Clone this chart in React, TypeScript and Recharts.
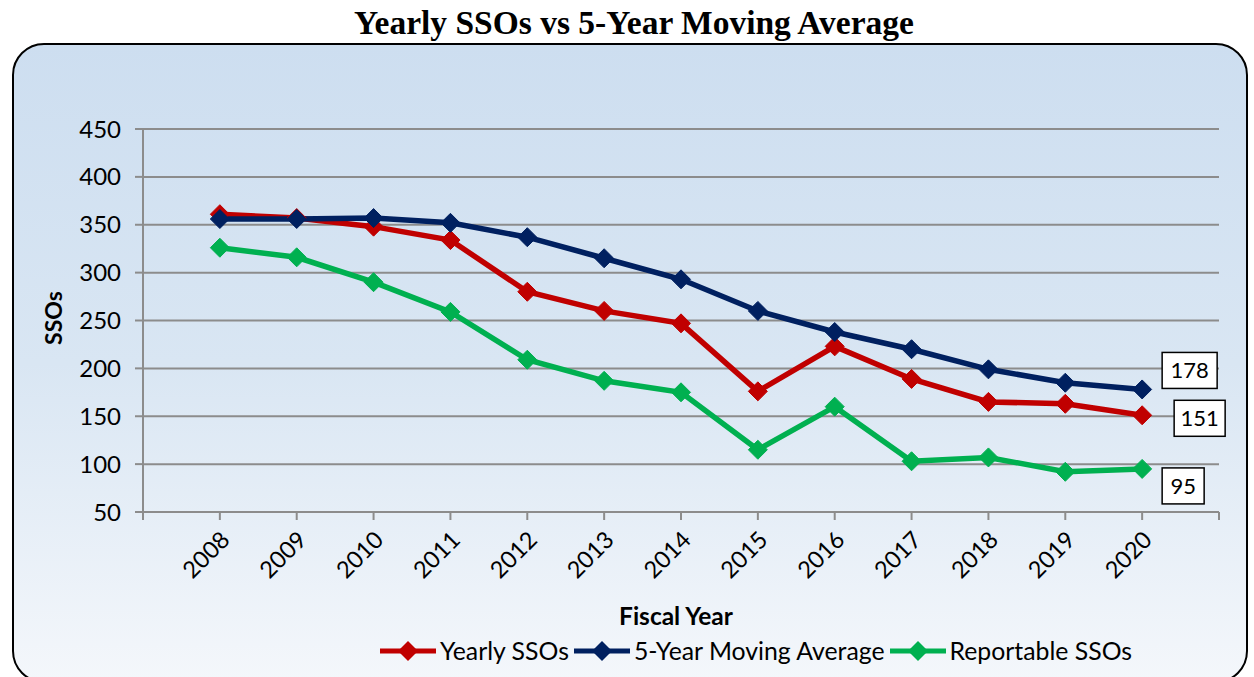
import React from 'react';
import { LineChart, Line, XAxis, YAxis, CartesianGrid, LabelList } from 'recharts';

const years = [2008, 2009, 2010, 2011, 2012, 2013, 2014, 2015, 2016, 2017, 2018, 2019, 2020];
const yearlySSOs = [361, 357, 348, 334, 280, 260, 247, 176, 223, 189, 165, 163, 151];
const movingAverage = [356, 356, 357, 352, 337, 315, 293, 260, 238, 220, 199, 185, 178];
const reportableSSOs = [326, 316, 290, 259, 209, 187, 175, 115, 160, 103, 107, 92, 95];
const yTicks = [50, 100, 150, 200, 250, 300, 350, 400, 450];

const xTicks = [years[0] - 1, ...years, years[years.length - 1] + 1];

const data = years.map((y, i) => ({
  year: y,
  yearly: yearlySSOs[i],
  avg: movingAverage[i],
  rep: reportableSSOs[i],
}));

const RED = '#c00000';
const NAVY = '#002060';
const GREEN = '#00b050';
const FONT = 'Lato, "Open Sans", sans-serif';

const Diamond = (color: string) => (props: any) => {
  const { cx, cy } = props;
  if (cx == null || cy == null) return null;
  const r = 9.5;
  return (
    <polygon
      key={`d-${cx}-${cy}`}
      points={`${cx},${cy - r} ${cx + r},${cy} ${cx},${cy + r} ${cx - r},${cy}`}
      fill={color}
      stroke={color}
      strokeWidth={1}
    />
  );
};

const makeEndLabel = (dx: number, dy: number, w: number) => (props: any) => {
  const { x, y, value, index } = props;
  if (index !== years.length - 1) return null;
  const h = 36;
  return (
    <g>
      <rect x={x + dx} y={y + dy} width={w} height={h} fill="#fff" stroke="#000" strokeWidth={1.5} />
      <text x={x + dx + w / 2} y={y + dy + h / 2 + 8} textAnchor="middle" fontFamily={FONT} fontSize={22} fill="#000">
        {value}
      </text>
    </g>
  );
};

const XTick = (props: any) => {
  const { x, y, payload } = props;
  const v = payload.value;
  if (!years.includes(v)) return null;
  return (
    <g transform={`translate(${x},${y + 8})`}>
      <text transform="rotate(-45)" textAnchor="end" dy={16} fontFamily={FONT} fontSize={23.5} fill="#000">
        {v}
      </text>
    </g>
  );
};

const legendItems = [
  { label: 'Yearly SSOs', color: RED },
  { label: '5-Year Moving Average', color: NAVY },
  { label: 'Reportable SSOs', color: GREEN },
];

export default function App() {
  return (
    <div style={{ position: 'absolute', left: 0, top: 0, width: 1254, height: 677, overflow: 'hidden', background: '#fff' }}>
      <div
        style={{
          position: 'absolute',
          left: 12,
          top: 43,
          width: 1236,
          height: 640,
          border: '2px solid #000',
          borderRadius: 32,
          background: 'linear-gradient(to bottom, #cddef0 0%, #d9e6f3 50%, #f4f7fb 100%)',
          boxSizing: 'border-box',
        }}
      />
      <div
        style={{
          position: 'absolute',
          left: 0,
          top: 4,
          width: 1268,
          textAlign: 'center',
          fontFamily: '"Liberation Serif", "DejaVu Serif", serif',
          fontWeight: 'bold',
          fontSize: 33.5,
          color: '#000',
          lineHeight: '38px',
        }}
      >
        Yearly SSOs vs 5-Year Moving Average
      </div>
      <div style={{ position: 'absolute', left: 0, top: 0 }}>
        <LineChart width={1254} height={677} data={data} margin={{ top: 129, right: 35, bottom: 0, left: 0 }}>
          <CartesianGrid vertical={false} stroke="#8c8c8c" strokeWidth={2} />
          <XAxis
            dataKey="year"
            type="number"
            domain={[xTicks[0], xTicks[xTicks.length - 1]]}
            ticks={xTicks}
            interval={0}
            height={165}
            tick={<XTick />}
            tickSize={8}
            stroke="#8c8c8c"
            strokeWidth={2}
            label={(p: any) => (
              <text x={676} y={625} textAnchor="middle" fontFamily={FONT} fontWeight="bold" fontSize={24.5} fill="#000">
                Fiscal Year
              </text>
            )}
          />
          <YAxis
            domain={[50, 450]}
            ticks={yTicks}
            width={143}
            tickSize={8}
            tickMargin={14}
            stroke="#8c8c8c"
            strokeWidth={2}
            tick={{ fontFamily: FONT, fontSize: 24, fill: '#000' }}
            label={(p: any) => (
              <text
                transform="translate(62,318) rotate(-90)"
                textAnchor="middle"
                fontFamily={FONT}
                fontWeight="bold"
                fontSize={23}
                fill="#000"
              >
                SSOs
              </text>
            )}
          />
          <Line dataKey="rep" stroke={GREEN} strokeWidth={5.5} dot={Diamond(GREEN)} isAnimationActive={false}>
            <LabelList dataKey="rep" content={makeEndLabel(20, -1, 42)} />
          </Line>
          <Line dataKey="yearly" stroke={RED} strokeWidth={5.5} dot={Diamond(RED)} isAnimationActive={false}>
            <LabelList dataKey="yearly" content={makeEndLabel(32, -15, 51)} />
          </Line>
          <Line dataKey="avg" stroke={NAVY} strokeWidth={5.5} dot={Diamond(NAVY)} isAnimationActive={false}>
            <LabelList dataKey="avg" content={makeEndLabel(20, -37, 55)} />
          </Line>
        </LineChart>
      </div>
      <div
        style={{
          position: 'absolute',
          left: 380,
          top: 636,
          display: 'flex',
          alignItems: 'center',
          fontFamily: FONT,
          fontSize: 24.8,
          color: '#000',
          whiteSpace: 'nowrap',
        }}
      >
        {legendItems.map((it) => (
          <div key={it.label} style={{ display: 'flex', alignItems: 'center', marginRight: 5 }}>
            <svg width={56} height={22} style={{ marginRight: 4 }}>
              <line x1={0} y1={11} x2={56} y2={11} stroke={it.color} strokeWidth={5} />
              <polygon points="28,1 38,11 28,21 18,11" fill={it.color} />
            </svg>
            <span>{it.label}</span>
          </div>
        ))}
      </div>
    </div>
  );
}
